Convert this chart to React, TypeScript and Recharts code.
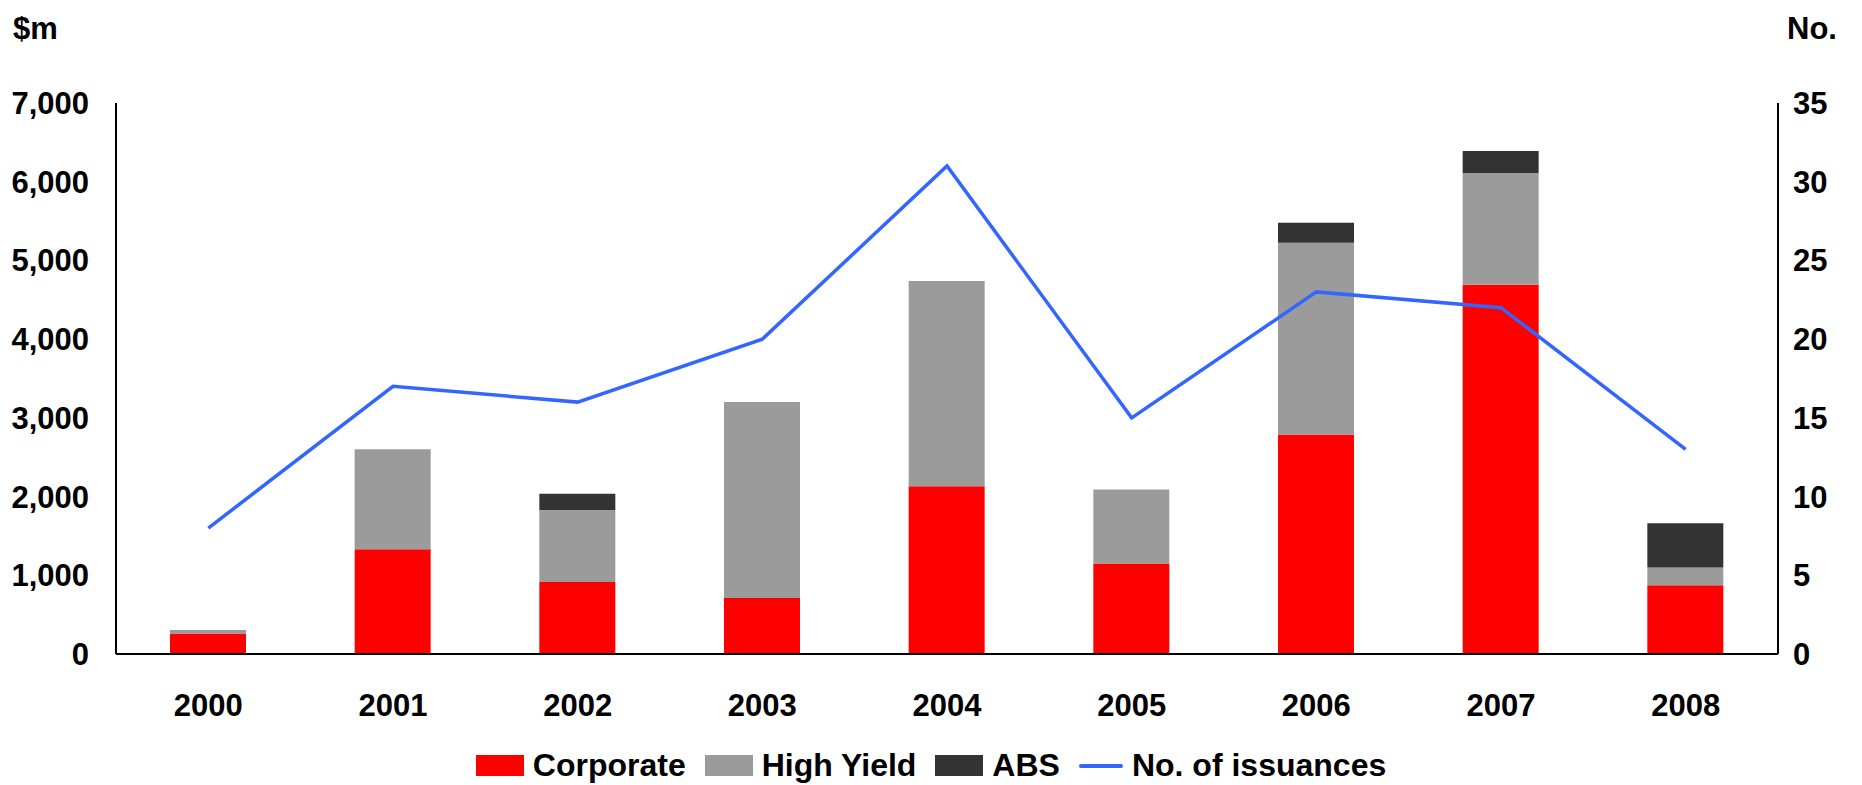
import React from "react";
import {
  ComposedChart,
  Bar,
  Line,
  XAxis,
  YAxis,
  Legend,
} from "recharts";

const years = ["2000", "2001", "2002", "2003", "2004", "2005", "2006", "2007", "2008"];
const corporate = [260, 1330, 915, 710, 2130, 1150, 2790, 4690, 875];
const highYield = [45, 1270, 915, 2490, 2610, 940, 2435, 1420, 225];
const abs = [0, 0, 205, 0, 0, 0, 255, 280, 560];
const issuances = [8, 17, 16, 20, 31, 15, 23, 22, 13];

const amountTicks = [0, 1000, 2000, 3000, 4000, 5000, 6000, 7000];
const countTicks = [0, 5, 10, 15, 20, 25, 30, 35];

const data = years.map((year, i) => ({
  year,
  corporate: corporate[i],
  highYield: highYield[i],
  abs: abs[i],
  issuances: issuances[i],
}));

const FONT = "'Liberation Sans', Arial, sans-serif";
const RED = "#ff0000";
const GREY = "#9b9b9b";
const DARK = "#333333";
const BLUE = "#3366ff";

const tickStyle = { fontFamily: FONT, fontSize: 31, fontWeight: 700, fill: "#000" };

const legendItems = [
  { label: "Corporate", color: RED, kind: "box" },
  { label: "High Yield", color: GREY, kind: "box" },
  { label: "ABS", color: DARK, kind: "box" },
  { label: "No. of issuances", color: BLUE, kind: "line" },
];

function renderLegend() {
  return (
    <div
      style={{
        display: "flex",
        justifyContent: "center",
        alignItems: "center",
        height: 39,
        fontFamily: FONT,
        fontSize: 32,
        fontWeight: 700,
        color: "#000",
        gap: 19,
      }}
    >
      {legendItems.map((item) => (
        <div key={item.label} style={{ display: "flex", alignItems: "center", gap: 9 }}>
          {item.kind === "box" ? (
            <span style={{ display: "inline-block", width: 48, height: 21, background: item.color }} />
          ) : (
            <span style={{ display: "inline-block", width: 44, height: 4, background: item.color, borderRadius: 2 }} />
          )}
          <span>{item.label}</span>
        </div>
      ))}
    </div>
  );
}

export default function App() {
  return (
    <div style={{ position: "absolute", left: 0, top: 0, background: "#fff" }}>
      <ComposedChart
        width={1862}
        height={785}
        data={data}
        margin={{ top: 103, right: 0, bottom: 0, left: 0 }}
      >
        <XAxis
          dataKey="year"
          interval={0}
          height={92}
          tickLine={false}
          tickMargin={34}
          axisLine={{ stroke: "#000", strokeWidth: 2 }}
          tick={tickStyle}
        />
        <YAxis
          yAxisId="left"
          domain={[0, 7000]}
          ticks={amountTicks}
          width={116}
          tickLine={false}
          tickMargin={21}
          axisLine={{ stroke: "#000", strokeWidth: 2 }}
          tick={tickStyle}
          tickFormatter={(v: number) => v.toLocaleString("en-US")}
          label={{
            content: () => (
              <text x={13} y={39} style={tickStyle}>
                $m
              </text>
            ),
          }}
        />
        <YAxis
          yAxisId="right"
          orientation="right"
          domain={[0, 35]}
          ticks={countTicks}
          width={84}
          tickLine={false}
          tickMargin={9}
          axisLine={{ stroke: "#000", strokeWidth: 2 }}
          tick={tickStyle}
          label={{
            content: () => (
              <text x={1787} y={39} style={tickStyle}>
                No.
              </text>
            ),
          }}
        />
        <Bar yAxisId="left" dataKey="corporate" stackId="a" fill={RED} barSize={76} isAnimationActive={false} />
        <Bar yAxisId="left" dataKey="highYield" stackId="a" fill={GREY} barSize={76} isAnimationActive={false} />
        <Bar yAxisId="left" dataKey="abs" stackId="a" fill={DARK} barSize={76} isAnimationActive={false} />
        <Line
          yAxisId="right"
          type="linear"
          dataKey="issuances"
          stroke={BLUE}
          strokeWidth={3.5}
          dot={false}
          isAnimationActive={false}
        />
        <Legend verticalAlign="bottom" content={renderLegend} />
      </ComposedChart>
    </div>
  );
}
